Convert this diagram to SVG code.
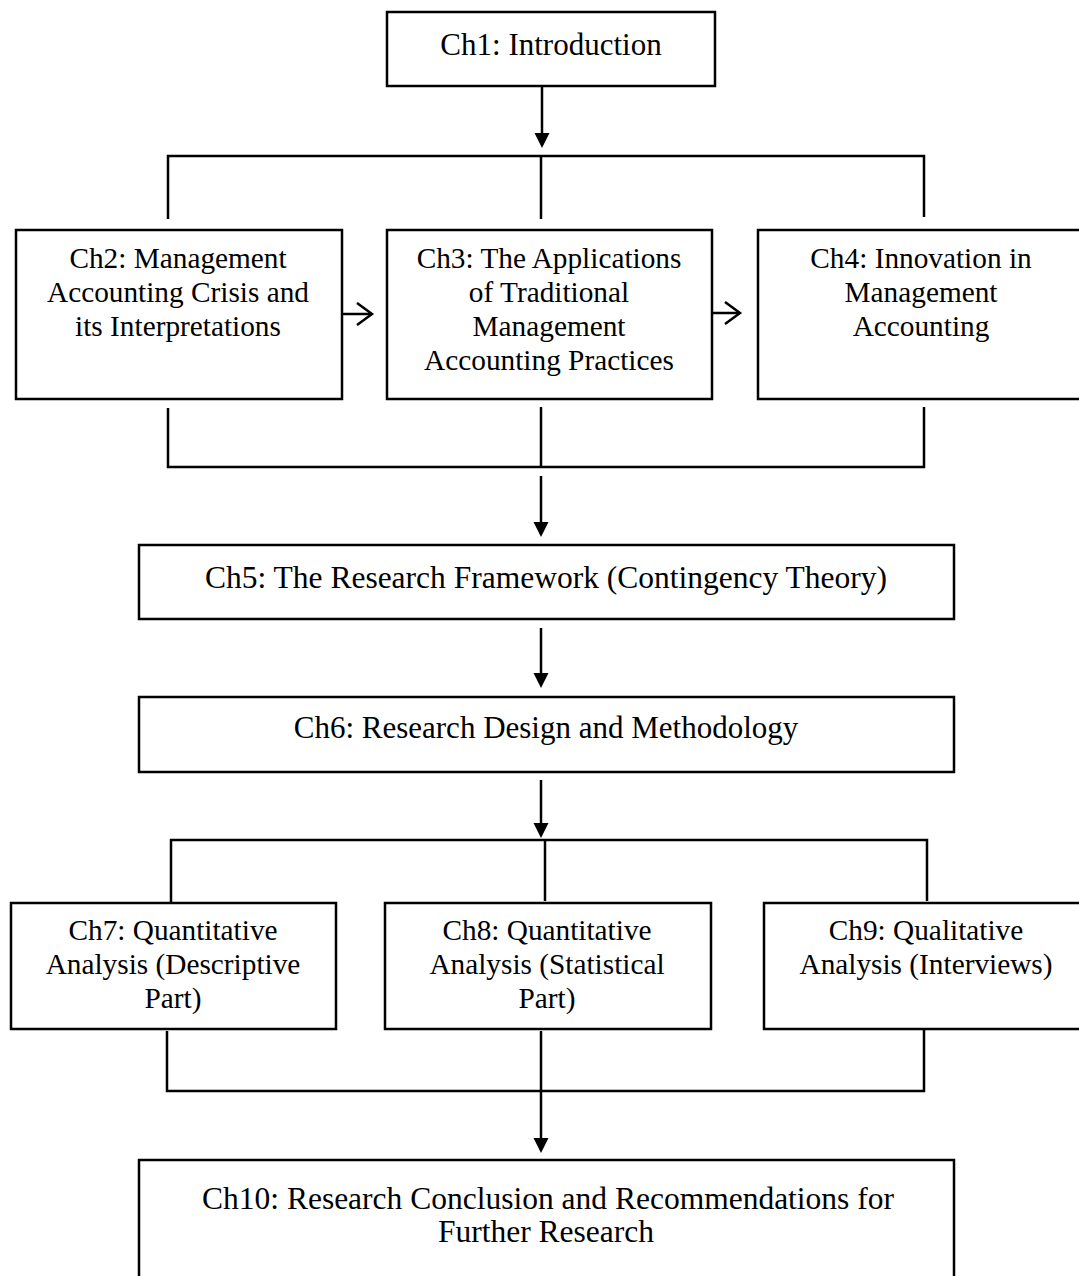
<svg xmlns="http://www.w3.org/2000/svg" width="1079" height="1276" viewBox="0 0 1079 1276">
<style>
.box{fill:#fff;stroke:#000;stroke-width:2.5}
.t{font-family:"Liberation Serif","Times New Roman",serif;font-size:29.3px;fill:#000;text-anchor:middle}
.big{font-size:31.5px}
.mid{font-size:31px}
.ln{fill:none;stroke:#000;stroke-width:2.5}
</style>
<defs>
<marker id="tri" markerUnits="userSpaceOnUse" markerWidth="16" markerHeight="16" refX="5" refY="7.5" orient="auto">
<path d="M0,0 L15,7.5 L0,15 z" fill="#000"/>
</marker>
<marker id="chev" markerUnits="userSpaceOnUse" markerWidth="22" markerHeight="26" refX="17" refY="12" orient="auto">
<path d="M2,1 L17,12 L2,23" fill="none" stroke="#000" stroke-width="2.5"/>
</marker>
</defs>
<rect width="1079" height="1276" fill="#fff"/>
<g id="connectors">
<line class="ln" x1="542" y1="86" x2="542" y2="138" marker-end="url(#tri)"/>
<polyline class="ln" points="168,219 168,156 924,156 924,217"/>
<line class="ln" x1="541" y1="156" x2="541" y2="219"/>
<line class="ln" x1="342" y1="314" x2="372" y2="314" marker-end="url(#chev)"/>
<line class="ln" x1="712" y1="313" x2="740" y2="313" marker-end="url(#chev)"/>
<polyline class="ln" points="168,408 168,467 924,467 924,407"/>
<line class="ln" x1="541" y1="407" x2="541" y2="467"/>
<line class="ln" x1="541" y1="476" x2="541" y2="527" marker-end="url(#tri)"/>
<line class="ln" x1="541" y1="628" x2="541" y2="678" marker-end="url(#tri)"/>
<line class="ln" x1="541" y1="780" x2="541" y2="828" marker-end="url(#tri)"/>
<polyline class="ln" points="171,902 171,840 927,840 927,901"/>
<line class="ln" x1="545" y1="840" x2="545" y2="901"/>
<polyline class="ln" points="167,1031 167,1091 924,1091 924,1029"/>
<line class="ln" x1="541" y1="1031" x2="541" y2="1143" marker-end="url(#tri)"/>
</g>
<g id="ch1">
<rect class="box" x="387" y="12" width="328" height="74"/>
<text class="t mid" x="551" y="55">Ch1: Introduction</text>
</g>
<g id="ch2">
<rect class="box" x="16" y="230" width="326" height="169"/>
<text class="t" x="178" y="268">Ch2: Management</text>
<text class="t" x="178" y="302">Accounting Crisis and</text>
<text class="t" x="178" y="336">its Interpretations</text>
</g>
<g id="ch3">
<rect class="box" x="387" y="230" width="325" height="169"/>
<text class="t" x="549" y="268">Ch3: The Applications</text>
<text class="t" x="549" y="302">of Traditional</text>
<text class="t" x="549" y="336">Management</text>
<text class="t" x="549" y="370">Accounting Practices</text>
</g>
<g id="ch4">
<rect class="box" x="758" y="230" width="330" height="169"/>
<text class="t" x="921" y="268">Ch4: Innovation in</text>
<text class="t" x="921" y="302">Management</text>
<text class="t" x="921" y="336">Accounting</text>
</g>
<g id="ch5">
<rect class="box" x="139" y="545" width="815" height="74"/>
<text class="t big" x="546" y="588">Ch5: The Research Framework (Contingency Theory)</text>
</g>
<g id="ch6">
<rect class="box" x="139" y="697" width="815" height="75"/>
<text class="t mid" x="546" y="738">Ch6: Research Design and Methodology</text>
</g>
<g id="ch7">
<rect class="box" x="11" y="903" width="325" height="126"/>
<text class="t" x="173" y="940">Ch7: Quantitative</text>
<text class="t" x="173" y="974">Analysis (Descriptive</text>
<text class="t" x="173" y="1008">Part)</text>
</g>
<g id="ch8">
<rect class="box" x="385" y="903" width="326" height="126"/>
<text class="t" x="547" y="940">Ch8: Quantitative</text>
<text class="t" x="547" y="974">Analysis (Statistical</text>
<text class="t" x="547" y="1008">Part)</text>
</g>
<g id="ch9">
<rect class="box" x="764" y="903" width="330" height="126"/>
<text class="t" x="926" y="940">Ch9: Qualitative</text>
<text class="t" x="926" y="974">Analysis (Interviews)</text>
</g>
<g id="ch10">
<rect class="box" x="139" y="1160" width="815" height="140"/>
<text class="t big" x="548" y="1209">Ch10: Research Conclusion and Recommendations for</text>
<text class="t big" x="546" y="1242">Further Research</text>
</g>
</svg>
